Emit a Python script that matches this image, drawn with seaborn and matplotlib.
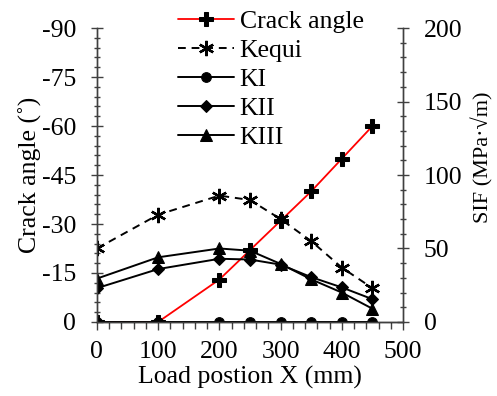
import matplotlib
matplotlib.use("Agg")
import matplotlib.pyplot as plt
import seaborn as sns
import pandas as pd
from matplotlib.ticker import MultipleLocator

sns.set_style("white")
plt.rcParams['font.family'] = ['Liberation Serif', 'DejaVu Serif']
plt.rcParams['axes.unicode_minus'] = False
plt.rcParams['text.color'] = 'black'
plt.rcParams['axes.labelcolor'] = 'black'
plt.rcParams['xtick.color'] = 'black'
plt.rcParams['ytick.color'] = 'black'

# ---- data ----
load_x = [0, 100, 200, 250, 300, 350, 400, 450]
crack_angle = [0, 0, -13, -22, -31, -40, -50, -60]
k_equi = [50, 73, 86, 83, 70, 55, 37, 23]
k_i = [0, 0, 0, 0, 0, 0, 0, 0]
k_ii = [23, 36, 43, 42.5, 39, 30.5, 23.5, 15.5]
k_iii = [29.5, 44, 50, 48.5, 39.5, 29, 20, 9]

x_ticks = [0, 100, 200, 300, 400, 500]
angle_ticks = [0, -15, -30, -45, -60, -75, -90]
sif_ticks = [0, 50, 100, 150, 200]

df = pd.DataFrame({"X": load_x, "angle": crack_angle, "Kequi": k_equi,
                   "KI": k_i, "KII": k_ii, "KIII": k_iii})

fs = 18.5
fig = plt.figure(figsize=(4.97, 3.96), dpi=100)
ax = fig.add_axes([0.195, 0.187, 0.616, 0.742])
ax2 = ax.twinx()

sns.lineplot(data=df, x="X", y="angle", ax=ax, color="red", lw=1.3,
             marker="P", markersize=10, markerfacecolor="black",
             markeredgecolor="black", label="Crack angle", legend=False)
sns.lineplot(data=df, x="X", y="Kequi", ax=ax2, color="black", lw=1.4,
             linestyle=(0, (4, 3)), marker=(6, 2, 0), markersize=11,
             markeredgewidth=1.7, markeredgecolor="black", label="Kequi", legend=False)
sns.lineplot(data=df, x="X", y="KI", ax=ax2, color="black", lw=1.4,
             marker="o", markersize=7, markeredgecolor="black", label="KI", legend=False)
sns.lineplot(data=df, x="X", y="KII", ax=ax2, color="black", lw=1.4,
             marker="D", markersize=6, markeredgecolor="black", label="KII", legend=False)
sns.lineplot(data=df, x="X", y="KIII", ax=ax2, color="black", lw=1.4,
             marker="^", markersize=8, markeredgecolor="black", label="KIII", legend=False)

ax.set_xlim(0, 500)
ax.set_ylim(0, -90)
ax2.set_ylim(0, 200)
ax.set_xticks(x_ticks)
ax.set_yticks(angle_ticks)
ax2.set_yticks(sif_ticks)
ax.xaxis.set_minor_locator(MultipleLocator(20))
ax.yaxis.set_minor_locator(MultipleLocator(3))
ax2.yaxis.set_minor_locator(MultipleLocator(10))

ax.set_xlabel("Load postion X (mm)", fontsize=fs, labelpad=2)
ax.set_ylabel("Crack angle (˚)", fontsize=fs, labelpad=0)
ax2.set_ylabel("SIF (MPa·√m)", fontsize=16)
ax2.yaxis.set_label_coords(1.222, 0.56)

for a in (ax, ax2):
    a.tick_params(which="major", direction="inout", length=8, width=1,
                  labelsize=fs, color="#404040", pad=11)
    a.tick_params(which="minor", direction="inout", length=5, width=1,
                  color="#404040")
ax.tick_params(axis="x", which="both", direction="out", pad=8)
ax.tick_params(axis="x", which="major", length=6)
ax.tick_params(axis="x", which="minor", length=5)
ax.tick_params(axis="y", which="both", left=True, right=False)
ax2.tick_params(axis="y", which="both", right=True, left=False)
ax.tick_params(axis="x", which="both", bottom=True)

for a in (ax, ax2):
    a.spines["top"].set_visible(False)
    for s in ("left", "right", "bottom"):
        a.spines[s].set_color("#404040")
        a.spines[s].set_linewidth(1)
ax.spines["bottom"].set_color("black")

h1, l1 = ax.get_legend_handles_labels()
h2, l2 = ax2.get_legend_handles_labels()
leg = ax2.legend(h1 + h2, l1 + l2, loc="upper left",
                 bbox_to_anchor=(0.352, 0.982), bbox_transform=fig.transFigure,
                 frameon=False, fontsize=fs, handlelength=2.2,
                 handletextpad=0.22, labelspacing=0.24, borderaxespad=0,
                 borderpad=0.1)

fig.savefig("out.png", dpi=100)
